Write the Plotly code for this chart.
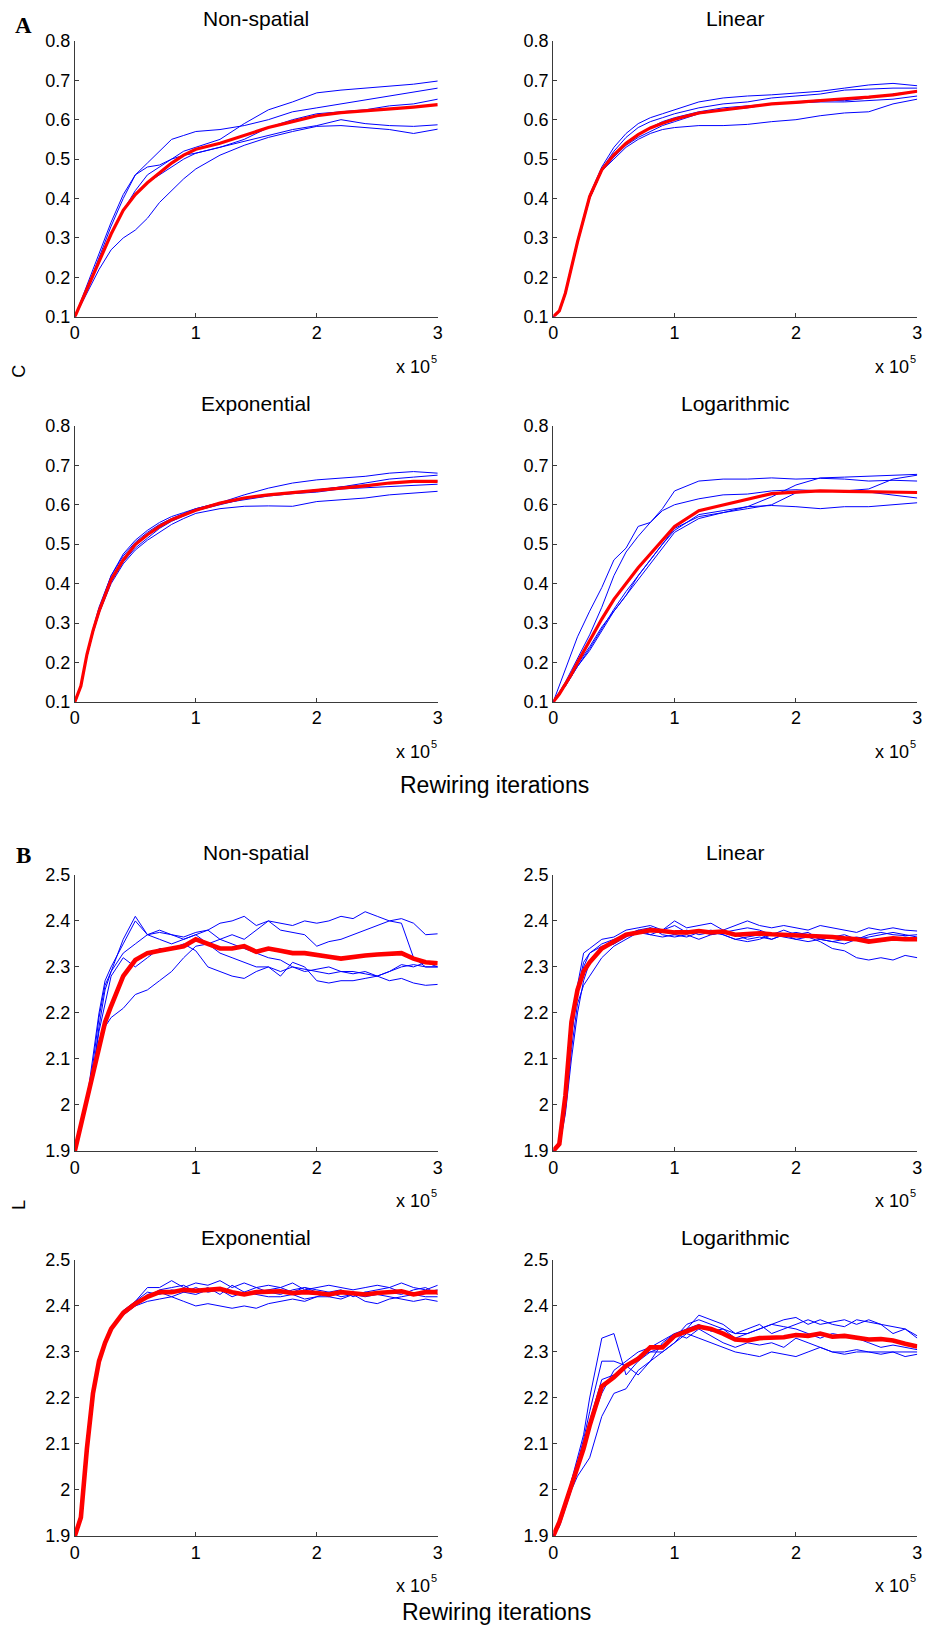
import plotly.graph_objects as go

# ---------------- shared x grids (units of 10^5 rewiring iterations) -------------
xa = [0, 0.05, 0.1, 0.15, 0.2, 0.3, 0.4, 0.5, 0.6, 0.7, 0.8, 0.9, 1.0,
      1.2, 1.4, 1.6, 1.8, 2.0, 2.2, 2.4, 2.6, 2.8, 3.0]
xb = [0, 0.05, 0.1, 0.15, 0.2, 0.25, 0.3,
      0.4, 0.5, 0.6, 0.7, 0.8, 0.9, 1.0,
      1.1, 1.2, 1.3, 1.4, 1.5, 1.6, 1.7, 1.8, 1.9, 2.0,
      2.1, 2.2, 2.3, 2.4, 2.5, 2.6, 2.7, 2.8, 2.9, 3.0]

panel_titles = ["Non-spatial", "Linear", "Exponential", "Logarithmic"]
c_ticks = [0.1, 0.2, 0.3, 0.4, 0.5, 0.6, 0.7, 0.8]
l_ticks = [1.9, 2.0, 2.1, 2.2, 2.3, 2.4, 2.5]
l_ticktext = ["1.9", "2", "2.1", "2.2", "2.3", "2.4", "2.5"]
x_ticks = [0, 1, 2, 3]

# ---------------- A: clustering coefficient C ----------------
c_nonspatial_runs = [
    [0.10, 0.14, 0.18, 0.22, 0.265, 0.34, 0.41, 0.46, 0.49, 0.52, 0.55, 0.56, 0.57, 0.575, 0.585, 0.60, 0.62, 0.63, 0.64, 0.65, 0.66, 0.67, 0.68],
    [0.10, 0.135, 0.17, 0.21, 0.25, 0.33, 0.40, 0.46, 0.48, 0.485, 0.50, 0.52, 0.53, 0.55, 0.59, 0.625, 0.645, 0.668, 0.675, 0.68, 0.685, 0.69, 0.698],
    [0.10, 0.135, 0.17, 0.205, 0.24, 0.31, 0.37, 0.42, 0.46, 0.48, 0.50, 0.51, 0.515, 0.53, 0.55, 0.58, 0.60, 0.615, 0.62, 0.625, 0.635, 0.64, 0.652],
    [0.10, 0.135, 0.17, 0.205, 0.24, 0.31, 0.37, 0.41, 0.44, 0.46, 0.48, 0.50, 0.515, 0.53, 0.545, 0.56, 0.575, 0.585, 0.60, 0.59, 0.585, 0.583, 0.587],
    [0.10, 0.13, 0.16, 0.19, 0.22, 0.27, 0.30, 0.32, 0.35, 0.39, 0.42, 0.45, 0.475, 0.51, 0.535, 0.555, 0.57, 0.583, 0.585, 0.58, 0.575, 0.565, 0.576],
]
c_nonspatial_mean = [0.10, 0.135, 0.17, 0.205, 0.24, 0.31, 0.37, 0.41, 0.44, 0.465, 0.49, 0.51, 0.525, 0.54, 0.56, 0.58, 0.595, 0.61, 0.618, 0.622, 0.627, 0.632, 0.638]

c_linear_runs = [
    [0.10, 0.115, 0.165, 0.23, 0.295, 0.41, 0.48, 0.53, 0.565, 0.59, 0.605, 0.615, 0.625, 0.645, 0.655, 0.66, 0.663, 0.667, 0.672, 0.68, 0.688, 0.692, 0.686],
    [0.10, 0.115, 0.16, 0.225, 0.29, 0.405, 0.475, 0.52, 0.555, 0.58, 0.595, 0.605, 0.615, 0.63, 0.64, 0.645, 0.655, 0.66, 0.665, 0.675, 0.678, 0.68, 0.68],
    [0.10, 0.115, 0.16, 0.225, 0.29, 0.40, 0.47, 0.51, 0.54, 0.56, 0.58, 0.595, 0.605, 0.62, 0.63, 0.635, 0.64, 0.645, 0.65, 0.648, 0.655, 0.665, 0.672],
    [0.10, 0.112, 0.155, 0.22, 0.285, 0.40, 0.47, 0.505, 0.535, 0.555, 0.57, 0.585, 0.595, 0.615, 0.625, 0.63, 0.64, 0.643, 0.645, 0.645, 0.648, 0.652, 0.66],
    [0.10, 0.115, 0.16, 0.225, 0.29, 0.40, 0.47, 0.50, 0.53, 0.55, 0.565, 0.575, 0.58, 0.585, 0.585, 0.588, 0.595, 0.60, 0.61, 0.617, 0.62, 0.64, 0.652],
]
c_linear_mean = [0.10, 0.115, 0.16, 0.225, 0.29, 0.405, 0.473, 0.511, 0.54, 0.562, 0.579, 0.591, 0.601, 0.617, 0.625, 0.634, 0.64, 0.644, 0.649, 0.653, 0.657, 0.663, 0.672]

c_exponential_runs = [
    [0.10, 0.14, 0.22, 0.28, 0.335, 0.42, 0.475, 0.51, 0.535, 0.555, 0.57, 0.58, 0.59, 0.605, 0.625, 0.642, 0.655, 0.663, 0.668, 0.672, 0.68, 0.684, 0.68],
    [0.10, 0.14, 0.22, 0.285, 0.34, 0.42, 0.47, 0.505, 0.53, 0.55, 0.565, 0.578, 0.59, 0.605, 0.618, 0.625, 0.63, 0.638, 0.645, 0.655, 0.665, 0.67, 0.675],
    [0.10, 0.14, 0.215, 0.28, 0.33, 0.41, 0.46, 0.50, 0.525, 0.545, 0.562, 0.575, 0.585, 0.60, 0.615, 0.625, 0.632, 0.637, 0.645, 0.65, 0.655, 0.66, 0.66],
    [0.10, 0.14, 0.215, 0.275, 0.325, 0.405, 0.455, 0.49, 0.515, 0.54, 0.558, 0.572, 0.585, 0.603, 0.613, 0.622, 0.628, 0.632, 0.64, 0.643, 0.645, 0.648, 0.652],
    [0.10, 0.14, 0.215, 0.275, 0.325, 0.40, 0.45, 0.485, 0.51, 0.53, 0.55, 0.565, 0.578, 0.59, 0.596, 0.597, 0.596, 0.608, 0.612, 0.617, 0.625, 0.63, 0.634],
]
c_exponential_mean = [0.10, 0.14, 0.22, 0.28, 0.33, 0.41, 0.46, 0.499, 0.524, 0.545, 0.562, 0.575, 0.586, 0.604, 0.617, 0.625, 0.63, 0.636, 0.642, 0.648, 0.655, 0.659, 0.659]

c_logarithmic_runs = [
    [0.10, 0.14, 0.18, 0.22, 0.265, 0.33, 0.39, 0.46, 0.49, 0.545, 0.555, 0.59, 0.635, 0.66, 0.665, 0.665, 0.668, 0.665, 0.667, 0.665, 0.66, 0.662, 0.66],
    [0.10, 0.125, 0.15, 0.18, 0.21, 0.27, 0.34, 0.42, 0.48, 0.52, 0.555, 0.585, 0.60, 0.615, 0.625, 0.627, 0.635, 0.638, 0.635, 0.635, 0.632, 0.625, 0.617],
    [0.10, 0.12, 0.145, 0.17, 0.195, 0.24, 0.29, 0.33, 0.37, 0.42, 0.46, 0.50, 0.54, 0.57, 0.58, 0.595, 0.62, 0.65, 0.668, 0.67, 0.672, 0.675, 0.677],
    [0.10, 0.12, 0.14, 0.165, 0.19, 0.23, 0.28, 0.33, 0.37, 0.41, 0.45, 0.49, 0.53, 0.565, 0.58, 0.59, 0.60, 0.63, 0.635, 0.635, 0.64, 0.665, 0.675],
    [0.10, 0.12, 0.14, 0.165, 0.19, 0.235, 0.285, 0.335, 0.38, 0.42, 0.46, 0.50, 0.535, 0.575, 0.585, 0.595, 0.598, 0.595, 0.59, 0.595, 0.595, 0.60, 0.605],
]
c_logarithmic_mean = [0.10, 0.12, 0.145, 0.17, 0.20, 0.255, 0.31, 0.36, 0.40, 0.44, 0.475, 0.51, 0.545, 0.585, 0.60, 0.615, 0.628, 0.632, 0.635, 0.634, 0.633, 0.632, 0.631]

# ---------------- B: characteristic path length L ----------------
l_nonspatial_runs = [
    [1.90, 1.95, 2.01, 2.10, 2.20, 2.27, 2.30, 2.35, 2.40, 2.37, 2.375, 2.37, 2.365, 2.375,
     2.38, 2.395, 2.40, 2.41, 2.39, 2.40, 2.395, 2.39, 2.40, 2.395,
     2.40, 2.41, 2.405, 2.42, 2.41, 2.40, 2.405, 2.395, 2.37, 2.372],
    [1.90, 1.95, 2.01, 2.09, 2.19, 2.26, 2.29, 2.36, 2.41, 2.37, 2.38, 2.37, 2.36, 2.37,
     2.38, 2.36, 2.37, 2.36, 2.38, 2.40, 2.38, 2.375, 2.37, 2.345,
     2.355, 2.36, 2.37, 2.38, 2.39, 2.40, 2.395, 2.32, 2.30, 2.30],
    [1.90, 1.95, 2.01, 2.07, 2.17, 2.25, 2.29, 2.33, 2.35, 2.37, 2.36, 2.35, 2.36, 2.37,
     2.35, 2.33, 2.32, 2.31, 2.30, 2.30, 2.29, 2.30, 2.295, 2.29,
     2.285, 2.29, 2.285, 2.29, 2.28, 2.29, 2.30, 2.305, 2.30, 2.30],
    [1.90, 1.95, 2.01, 2.07, 2.16, 2.22, 2.28, 2.32, 2.30, 2.32, 2.34, 2.34, 2.35, 2.335,
     2.30, 2.29, 2.28, 2.275, 2.29, 2.30, 2.28, 2.31, 2.30, 2.27,
     2.265, 2.27, 2.27, 2.275, 2.28, 2.27, 2.275, 2.265, 2.26, 2.262],
    [1.90, 1.95, 2.01, 2.07, 2.14, 2.17, 2.19, 2.21, 2.24, 2.25, 2.27, 2.29, 2.32, 2.345,
     2.35, 2.36, 2.35, 2.34, 2.33, 2.32, 2.315, 2.30, 2.29, 2.295,
     2.30, 2.29, 2.29, 2.285, 2.28, 2.29, 2.305, 2.30, 2.31, 2.30],
]
l_nonspatial_mean = [1.90, 1.955, 2.018, 2.07, 2.13, 2.18, 2.215, 2.28, 2.315, 2.33, 2.335, 2.34, 2.345, 2.36,
                     2.35, 2.34, 2.34, 2.345, 2.333, 2.34, 2.335, 2.33, 2.33, 2.325,
                     2.322, 2.318, 2.322, 2.325, 2.327, 2.328, 2.33, 2.318, 2.31, 2.308]

l_linear_runs = [
    [1.90, 1.92, 2.03, 2.18, 2.26, 2.33, 2.34, 2.36, 2.365, 2.38, 2.385, 2.39, 2.38, 2.40,
     2.385, 2.39, 2.395, 2.38, 2.39, 2.40, 2.39, 2.385, 2.39, 2.385,
     2.38, 2.39, 2.385, 2.38, 2.375, 2.385, 2.38, 2.385, 2.38, 2.378],
    [1.90, 1.91, 2.00, 2.15, 2.25, 2.31, 2.33, 2.35, 2.36, 2.37, 2.375, 2.37, 2.38, 2.37,
     2.38, 2.37, 2.375, 2.37, 2.36, 2.365, 2.37, 2.36, 2.37, 2.375,
     2.37, 2.36, 2.365, 2.37, 2.36, 2.37, 2.375, 2.37, 2.368, 2.37],
    [1.90, 1.91, 1.99, 2.12, 2.22, 2.26, 2.28, 2.32, 2.345, 2.36, 2.375, 2.385, 2.37, 2.365,
     2.37, 2.36, 2.37, 2.375, 2.38, 2.385, 2.38, 2.37, 2.38, 2.37,
     2.375, 2.36, 2.355, 2.36, 2.365, 2.36, 2.355, 2.36, 2.365, 2.362],
    [1.90, 1.91, 2.00, 2.15, 2.25, 2.30, 2.33, 2.345, 2.35, 2.365, 2.38, 2.385, 2.38, 2.39,
     2.375, 2.38, 2.37, 2.375, 2.37, 2.36, 2.365, 2.36, 2.37, 2.36,
     2.365, 2.355, 2.34, 2.335, 2.32, 2.315, 2.32, 2.315, 2.325, 2.32],
    [1.90, 1.91, 1.98, 2.10, 2.20, 2.27, 2.31, 2.34, 2.35, 2.37, 2.38, 2.37, 2.365, 2.37,
     2.365, 2.375, 2.38, 2.37, 2.36, 2.355, 2.36, 2.37, 2.365, 2.36,
     2.355, 2.36, 2.355, 2.35, 2.36, 2.365, 2.37, 2.375, 2.37, 2.365],
]
l_linear_mean = [1.90, 1.915, 2.02, 2.18, 2.25, 2.29, 2.31, 2.34, 2.355, 2.37, 2.375, 2.38, 2.378, 2.375,
                 2.375, 2.378, 2.375, 2.377, 2.37, 2.372, 2.373, 2.371, 2.37, 2.37,
                 2.367, 2.368, 2.365, 2.362, 2.36, 2.355, 2.358, 2.362, 2.36, 2.36]

l_exponential_runs = [
    [1.90, 1.94, 2.09, 2.21, 2.28, 2.32, 2.35, 2.38, 2.40, 2.41, 2.415, 2.42, 2.41, 2.40,
     2.405, 2.40, 2.395, 2.40, 2.395, 2.405, 2.41, 2.415, 2.41, 2.42,
     2.42, 2.415, 2.425, 2.42, 2.425, 2.42, 2.415, 2.41, 2.415, 2.41],
    [1.90, 1.94, 2.09, 2.21, 2.28, 2.32, 2.35, 2.39, 2.41, 2.44, 2.44, 2.455, 2.44, 2.45,
     2.445, 2.455, 2.44, 2.45, 2.44, 2.445, 2.44, 2.45, 2.435, 2.44,
     2.445, 2.44, 2.435, 2.44, 2.445, 2.44, 2.45, 2.44, 2.435, 2.445],
    [1.90, 1.94, 2.09, 2.21, 2.28, 2.32, 2.35, 2.38, 2.41, 2.43, 2.425, 2.435, 2.43, 2.44,
     2.43, 2.435, 2.42, 2.43, 2.425, 2.42, 2.42, 2.425, 2.415, 2.42,
     2.43, 2.42, 2.425, 2.41, 2.405, 2.415, 2.42, 2.425, 2.42, 2.42],
    [1.90, 1.94, 2.09, 2.21, 2.28, 2.32, 2.35, 2.385, 2.40, 2.425, 2.43, 2.42, 2.43, 2.425,
     2.435, 2.44, 2.43, 2.425, 2.43, 2.435, 2.44, 2.43, 2.44, 2.43,
     2.42, 2.43, 2.425, 2.43, 2.435, 2.44, 2.43, 2.425, 2.43, 2.435],
    [1.90, 1.94, 2.09, 2.21, 2.28, 2.32, 2.35, 2.39, 2.405, 2.42, 2.435, 2.44, 2.445, 2.43,
     2.44, 2.425, 2.445, 2.43, 2.44, 2.43, 2.425, 2.435, 2.44, 2.435,
     2.43, 2.435, 2.42, 2.43, 2.425, 2.43, 2.425, 2.435, 2.44, 2.425],
]
l_exponential_mean = [1.90, 1.94, 2.09, 2.21, 2.28, 2.32, 2.35, 2.385, 2.405, 2.42, 2.43, 2.43, 2.435, 2.433,
                      2.435, 2.437, 2.43, 2.425, 2.43, 2.43, 2.432, 2.428, 2.43, 2.428,
                      2.425, 2.43, 2.427, 2.425, 2.428, 2.43, 2.432, 2.425, 2.43, 2.43]

l_logarithmic_runs = [
    [1.90, 1.93, 1.97, 2.02, 2.07, 2.12, 2.20, 2.33, 2.34, 2.25, 2.28, 2.30, 2.31, 2.33,
     2.36, 2.37, 2.36, 2.35, 2.33, 2.34, 2.35, 2.36, 2.355, 2.35,
     2.34, 2.33, 2.34, 2.335, 2.33, 2.32, 2.31, 2.315, 2.31, 2.305],
    [1.90, 1.93, 1.97, 2.02, 2.06, 2.11, 2.17, 2.28, 2.28, 2.27, 2.25, 2.28, 2.32, 2.34,
     2.35, 2.38, 2.37, 2.36, 2.34, 2.35, 2.36, 2.34, 2.35, 2.36,
     2.37, 2.36, 2.365, 2.37, 2.36, 2.37, 2.36, 2.34, 2.35, 2.335],
    [1.90, 1.92, 1.96, 2.00, 2.03, 2.05, 2.07, 2.16, 2.21, 2.22, 2.26, 2.28, 2.30, 2.32,
     2.34, 2.33, 2.32, 2.31, 2.30, 2.295, 2.29, 2.30, 2.295, 2.29,
     2.30, 2.31, 2.30, 2.295, 2.30, 2.30, 2.295, 2.30, 2.29, 2.295],
    [1.90, 1.93, 1.97, 2.01, 2.05, 2.10, 2.15, 2.24, 2.25, 2.27, 2.29, 2.30, 2.30, 2.32,
     2.35, 2.36, 2.345, 2.35, 2.34, 2.34, 2.35, 2.36, 2.37, 2.375,
     2.36, 2.37, 2.36, 2.355, 2.37, 2.365, 2.36, 2.355, 2.35, 2.33],
    [1.90, 1.93, 1.97, 2.01, 2.05, 2.10, 2.14, 2.21, 2.26, 2.28, 2.30, 2.31, 2.325, 2.34,
     2.33, 2.35, 2.335, 2.32, 2.31, 2.32, 2.315, 2.32, 2.31, 2.33,
     2.32, 2.31, 2.30, 2.30, 2.305, 2.30, 2.30, 2.30, 2.30, 2.30],
]
l_logarithmic_mean = [1.90, 1.93, 1.97, 2.01, 2.05, 2.09, 2.14, 2.225, 2.245, 2.27, 2.285, 2.31, 2.31, 2.335,
                      2.345, 2.355, 2.35, 2.34, 2.327, 2.325, 2.33, 2.33, 2.332, 2.337,
                      2.335, 2.34, 2.333, 2.335, 2.33, 2.327, 2.328, 2.325, 2.318, 2.312]

# ---------------- layout geometry ----------------
W, H = 935, 1629
# target pixel positions (as measured on the reference); mapped to figure
# pixels to account for the small uniform inset of the captured page
INSET_X, INSET_Y, SCALE = 6.0, 10.2, 0.9876


def fx(p):
    return (p - INSET_X) / SCALE


def fy(p):
    return (p - INSET_Y) / SCALE


col_px = [(75.7, 438.0), (553.3, 916.7)]
row_px = [(41, 317), (426, 702), (875, 1151), (1260, 1536)]

panels = [
    (xa, c_nonspatial_runs, c_nonspatial_mean, "C"),
    (xa, c_linear_runs, c_linear_mean, "C"),
    (xa, c_exponential_runs, c_exponential_mean, "C"),
    (xa, c_logarithmic_runs, c_logarithmic_mean, "C"),
    (xb, l_nonspatial_runs, l_nonspatial_mean, "L"),
    (xb, l_linear_runs, l_linear_mean, "L"),
    (xb, l_exponential_runs, l_exponential_mean, "L"),
    (xb, l_logarithmic_runs, l_logarithmic_mean, "L"),
]

FONT = "Liberation Sans, Arial, Helvetica, sans-serif"
AXC = "#3a3a3a"

fig = go.Figure()
layout = dict(width=W, height=H, margin=dict(l=0, r=0, t=0, b=0),
              paper_bgcolor="white", plot_bgcolor="white", showlegend=False,
              font=dict(family=FONT, color="black"))
annotations = []


def px_x(p):
    return fx(p) / W


def px_y(p):
    return 1 - fy(p) / H


def note(text, x, y, size, xanchor="center", angle=0, family=FONT, weight="normal"):
    annotations.append(dict(text=text, x=px_x(x), y=px_y(y), xref="paper", yref="paper",
                            showarrow=False, xanchor=xanchor, yanchor="middle",
                            textangle=angle,
                            font=dict(family=family, size=size, color="black", weight=weight)))


for i, (xs, runs, mean, kind) in enumerate(panels):
    r, c = divmod(i, 2)
    n = i + 1
    xn = "x" if n == 1 else f"x{n}"
    yn = "y" if n == 1 else f"y{n}"
    for run in runs:
        fig.add_trace(go.Scatter(x=xs, y=run, mode="lines", xaxis=xn, yaxis=yn,
                                 line=dict(color="#0000ff", width=1), hoverinfo="skip"))
    fig.add_trace(go.Scatter(x=xs, y=mean, mode="lines", xaxis=xn, yaxis=yn,
                             line=dict(color="#ff0000", width=3.2 if kind == "C" else 4.6),
                             hoverinfo="skip"))
    x0, x1 = col_px[c]
    y0, y1 = row_px[r]
    common = dict(showline=True, linecolor=AXC, linewidth=1, ticks="inside", ticklen=4,
                  tickcolor=AXC, tickwidth=1, showgrid=False, zeroline=False, mirror=False,
                  tickfont=dict(family=FONT, size=18, color="black"), fixedrange=True)
    layout["xaxis" + ("" if n == 1 else str(n))] = dict(
        domain=[px_x(x0), px_x(x1)], range=[0, 3], anchor=yn,
        tickvals=x_ticks, ticktext=[str(t) for t in x_ticks], **common)
    if kind == "C":
        yax = dict(range=[0.1, 0.8], tickvals=c_ticks, ticktext=[f"{t:.1f}" for t in c_ticks])
    else:
        yax = dict(range=[1.9, 2.5], tickvals=l_ticks, ticktext=l_ticktext)
    layout["yaxis" + ("" if n == 1 else str(n))] = dict(
        domain=[px_y(y1), px_y(y0)], anchor=xn, **yax, **common)

    note(panel_titles[i % 4], (x0 + x1) / 2, y0 - 22, 21)
    note("x 10", x1 - 6, y1 + 50, 18, xanchor="right")
    note("5", x1 + 1, y1 + 42, 11, xanchor="right")

note("A", 24, 26, 23, family="Liberation Serif, Times New Roman, serif", weight="bold")
note("B", 24, 856, 23, family="Liberation Serif, Times New Roman, serif", weight="bold")
note("C", 20, 372, 18, angle=-90)
note("L", 20, 1205, 18, angle=-90)
note("Rewiring iterations", 495, 785, 23)
note("Rewiring iterations", 497, 1612, 23)

layout["annotations"] = annotations
fig.update_layout(**layout)

pin = ("document.documentElement.style.margin='0';document.body.style.margin='0';"
       "document.body.style.overflow='hidden';"
       "var gd=document.getElementById('{plot_id}');"
       "gd.style.position='absolute';gd.style.left='0px';gd.style.top='0px';")
fig.write_html("out.html", post_script=pin, config=dict(displayModeBar=False))
